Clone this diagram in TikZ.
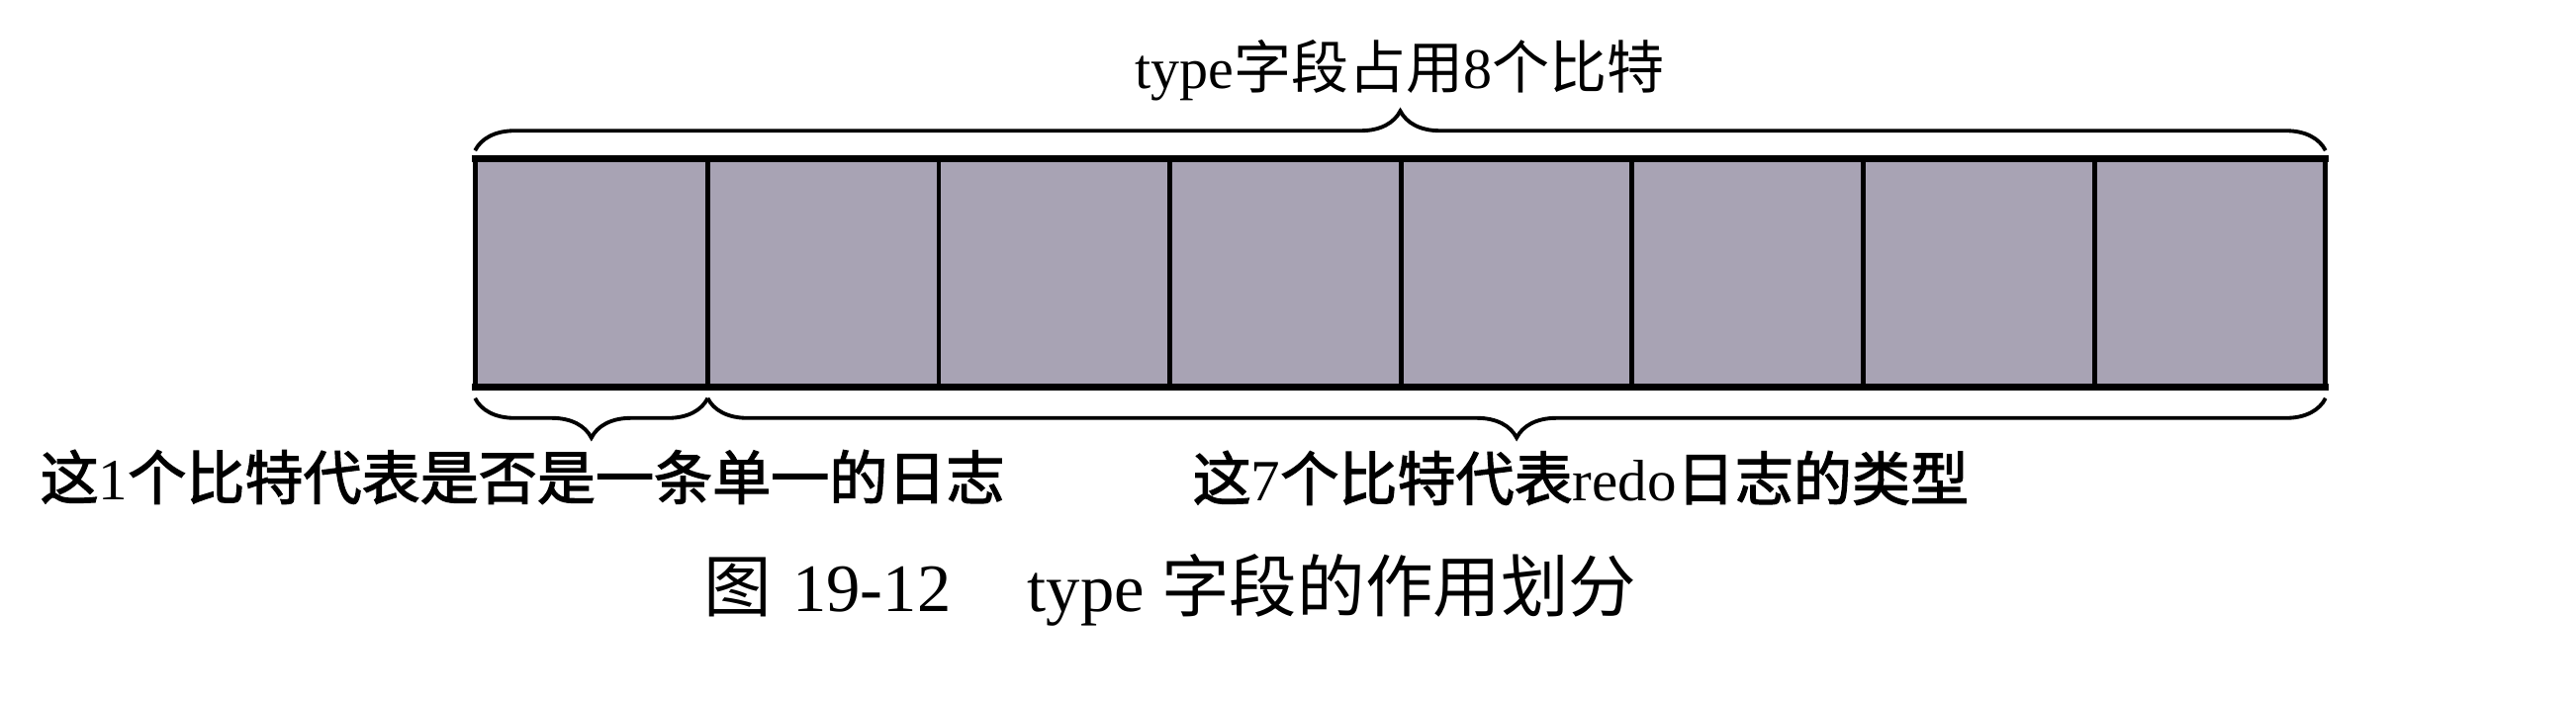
\documentclass[tikz,border=0pt]{standalone}
\usepackage{fontspec}
\setmainfont{Liberation Serif}
\newfontfamily\cjk{Noto Sans CJK SC}
\newfontfamily\cjkm{Noto Sans CJK SC}[FakeBold=2]
\usetikzlibrary{decorations.pathreplacing,calc}
\definecolor{cellfill}{RGB}{168,163,180}
\begin{document}
\begin{tikzpicture}[x=0.01cm,y=-0.01cm,
  cell/.style={fill=cellfill, draw=none, inner sep=0pt, minimum width=2.33625cm, minimum height=2.30cm},
  hborder/.style={line width=2pt, line cap=rect},
  vborder/.style={line width=1.4pt},
  bracepath/.style={line width=1.1pt, decorate, decoration={brace, amplitude=0.4cm}},
  lbl/.style={inner sep=0pt, font=\fontsize{16.8}{20}\selectfont},
]
\useasboundingbox (0,0) rectangle (2604,708);
% cells
\foreach \i in {1,...,8} \node[cell] (c\i) at ({481+233.625*(\i-0.5)},276) {};
% borders
\draw[vborder] (c1.north west) -- (c1.south west);
\foreach \i in {1,...,8} \draw[vborder] (c\i.north east) -- (c\i.south east);
\draw[hborder] (c1.north west) -- (c8.north east);
\draw[hborder] (c1.south west) -- (c8.south east);
% braces
\coordinate (tl) at ($(c1.north west)+(0,-8)$);
\coordinate (tr) at ($(c8.north east)+(0,-8)$);
\coordinate (b1l) at ($(c1.south west)+(0,11)$);
\coordinate (b1r) at ($(c1.south east)+(0,11)$);
\coordinate (b2r) at ($(c8.south east)+(0,11)$);
\draw[bracepath] (tl) -- (tr);
\draw[bracepath] (b1r) -- (b1l);
\draw[bracepath] (b2r) -- (b1r);
% texts
\node[lbl, anchor=base, font=\fontsize{16.5}{20}\selectfont] (top) at (1415,89) {type{\cjk 字段占用}8{\cjk 个比特}};
\node[lbl, anchor=base west] (l1) at (40,505) {{\cjkm 这}1{\cjkm 个比特代表是否是一条单一的日志}};
\node[lbl, anchor=base west] (l2) at (1205,506) {{\cjkm 这}7{\cjkm 个比特代表}redo{\cjkm 日志的类型}};
\node[anchor=base west, inner sep=0pt, font=\fontsize{19.5}{24}\selectfont] (cap) at (711,618) {{\cjk 图}\hspace{6pt}19-12\hspace{22pt}type\hspace{5pt}{\cjk 字段的作用划分}};
\end{tikzpicture}
\end{document}
